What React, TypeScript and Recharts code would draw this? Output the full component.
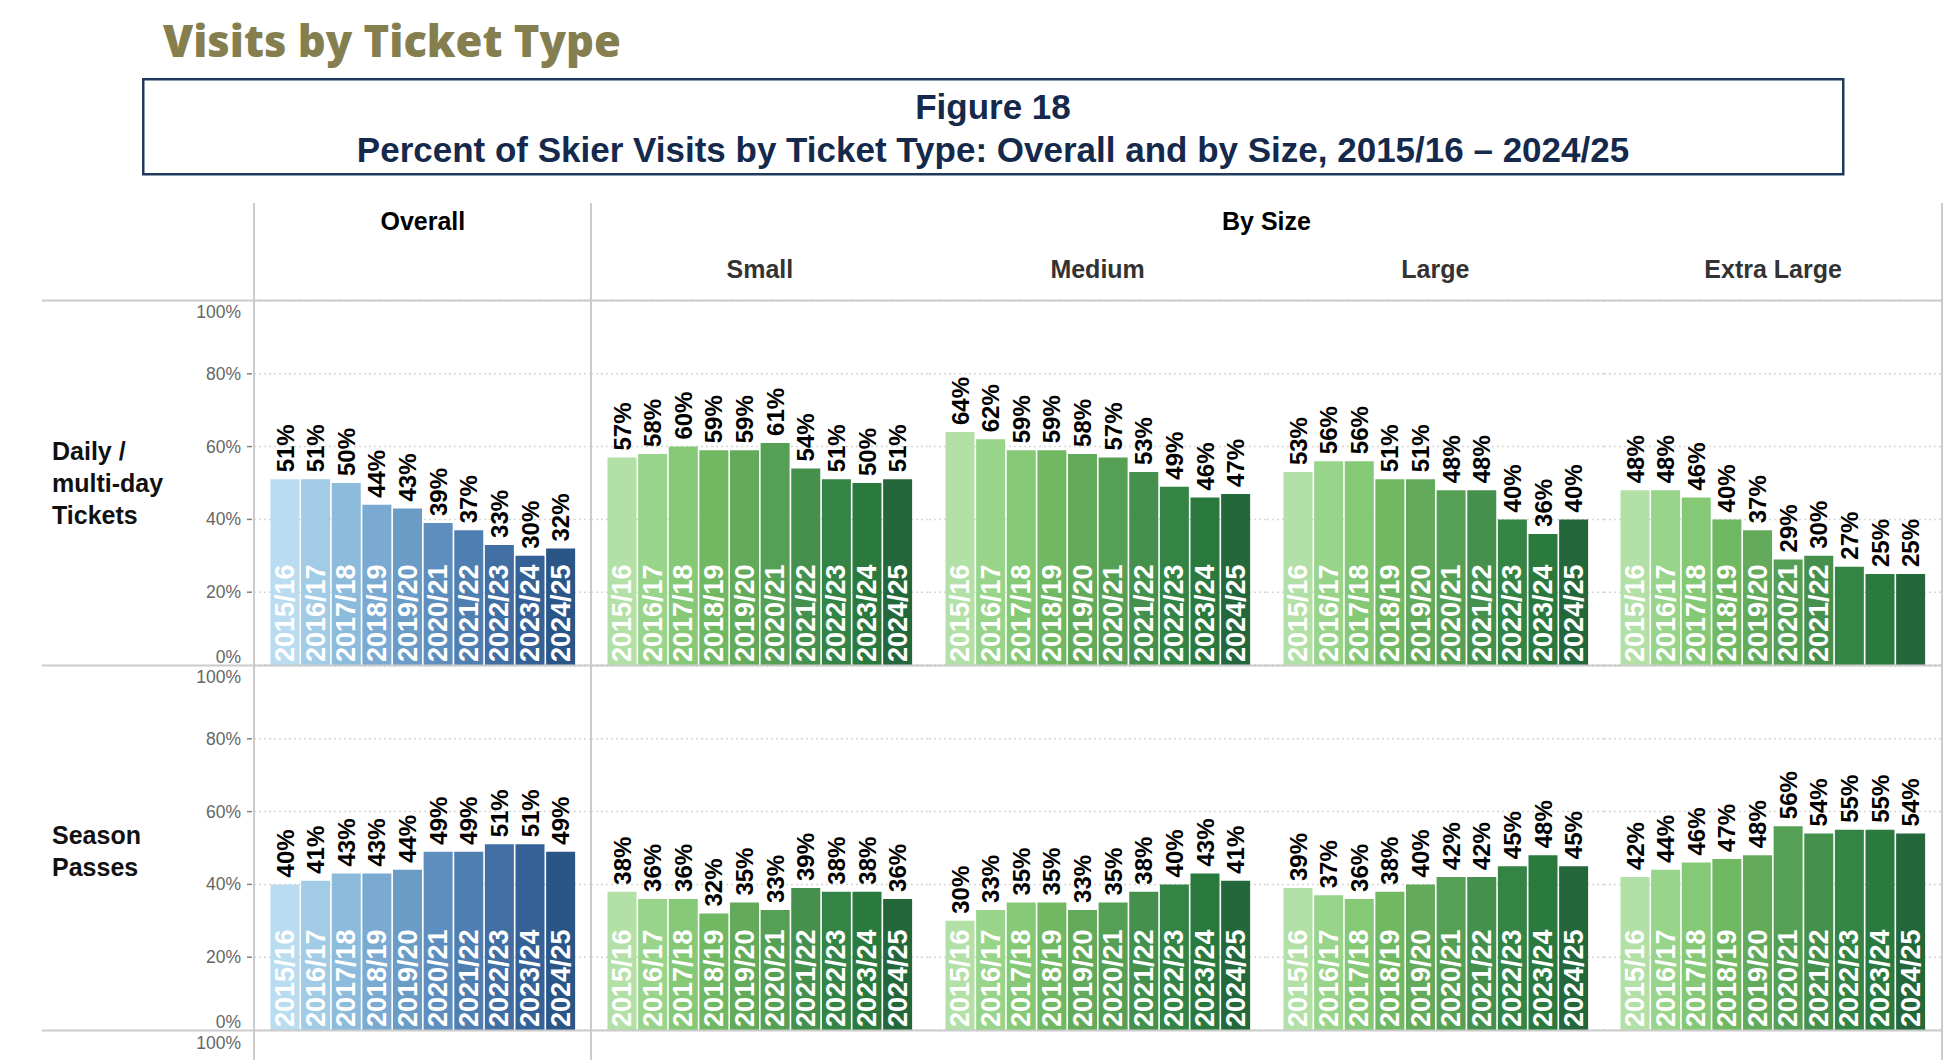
import React from "react";
import { Bar, BarChart, CartesianGrid, Cell, LabelList, XAxis, YAxis } from "recharts";

const SEASONS = [
  "2015/16", "2016/17", "2017/18", "2018/19", "2019/20",
  "2020/21", "2021/22", "2022/23", "2023/24", "2024/25",
];
const SIZES = ["Small", "Medium", "Large", "Extra Large"];

// Daily / multi-day tickets
const DAILY_OVERALL = [51, 51, 50, 44, 43, 39, 37, 33, 30, 32];
const DAILY_SMALL = [57, 58, 60, 59, 59, 61, 54, 51, 50, 51];
const DAILY_MEDIUM = [64, 62, 59, 59, 58, 57, 53, 49, 46, 47];
const DAILY_LARGE = [53, 56, 56, 51, 51, 48, 48, 40, 36, 40];
const DAILY_XL = [48, 48, 46, 40, 37, 29, 30, 27, 25, 25];

// Season passes
const SEASON_OVERALL = [40, 41, 43, 43, 44, 49, 49, 51, 51, 49];
const SEASON_SMALL = [38, 36, 36, 32, 35, 33, 39, 38, 38, 36];
const SEASON_MEDIUM = [30, 33, 35, 35, 33, 35, 38, 40, 43, 41];
const SEASON_LARGE = [39, 37, 36, 38, 40, 42, 42, 45, 48, 45];
const SEASON_XL = [42, 44, 46, 47, 48, 56, 54, 55, 55, 54];

const PCT_TICKS = [0, 20, 40, 60, 80, 100];

const BLUES = [
  "#b9dcf0", "#a2cbe6", "#8dbbdc", "#7aaad1", "#6a9cc5",
  "#5d8ebd", "#4f7eb0", "#416ea3", "#366197", "#295587",
];
const GREENS = [
  "#b3e0a6", "#98d48a", "#85c876", "#71b863", "#63ab5a",
  "#56a055", "#45904d", "#348446", "#2a7a3e", "#24673b",
];

const ROWS = [
  {
    label: ["Daily /", "multi-day", "Tickets"],
    overall: DAILY_OVERALL,
    bySize: [DAILY_SMALL, DAILY_MEDIUM, DAILY_LARGE, DAILY_XL],
  },
  {
    label: ["Season", "Passes"],
    overall: SEASON_OVERALL,
    bySize: [SEASON_SMALL, SEASON_MEDIUM, SEASON_LARGE, SEASON_XL],
  },
];

const ARIAL = "'Liberation Sans', Arial, Helvetica, sans-serif";
const W = 1952;
const H = 1060;
const PLOT_H = 364;
const PAD = 12; // room above/below the plot so edge tick labels are not clipped
const ROW_TOP = [301, 666];
const OVERALL_LEFT = 254;
const SIZE_LEFT = 591;
const PANEL_W = 337.75;
const AXIS_W = 100;
const LINE = "#cbcbcb";

function YTick(props: any) {
  const { x, y, payload } = props;
  const v = payload.value;
  const dy = v === 100 ? 11 : v === 0 ? -8 : 0;
  return (
    <g>
      {v > 0 && v < 100 && (
        <line x1={x - 7} x2={x - 2} y1={y} y2={y} stroke="#808080" strokeWidth={1.5} />
      )}
      <text
        x={x - 13}
        y={y + dy}
        textAnchor="end"
        dominantBaseline="central"
        fontFamily={ARIAL}
        fontSize={17.5}
        fill="#666"
      >
        {v}%
      </text>
    </g>
  );
}

function ValueLabel(props: any) {
  const { x, y, width, value } = props;
  const cx = Number(x) + Number(width) / 2;
  const ty = Number(y) - 7;
  return (
    <text
      transform={`translate(${cx},${ty}) rotate(-90)`}
      textAnchor="start"
      dominantBaseline="central"
      fontFamily={ARIAL}
      fontWeight="bold"
      fontSize={24}
      fill="#000"
    >
      {value}%
    </text>
  );
}

function YearLabel(props: any) {
  const { x, y, width, height, value } = props;
  // the season name only fits inside bars that are tall enough
  if (Number(height) < 101) return null;
  const cx = Number(x) + Number(width) / 2;
  const ty = Number(y) + Number(height) - 3;
  return (
    <text
      transform={`translate(${cx},${ty}) rotate(-90)`}
      textAnchor="start"
      dominantBaseline="central"
      fontFamily={ARIAL}
      fontWeight="bold"
      fontSize={27}
      fill="#fff"
    >
      {value}
    </text>
  );
}

type PanelProps = {
  values: number[];
  colors: string[];
  left: number;
  top: number;
  withAxis?: boolean;
};

function Panel({ values, colors, left, top, withAxis }: PanelProps) {
  const data = SEASONS.map((season, i) => ({ season, value: values[i] }));
  const axisW = withAxis ? AXIS_W : 0;
  return (
    <div style={{ position: "absolute", left: left - axisW, top: top - PAD }}>
      <BarChart
        width={PANEL_W + axisW}
        height={PLOT_H + PAD * 2}
        data={data}
        margin={{ top: PAD, right: 0, bottom: PAD, left: 0 }}
        barCategoryGap={1}
      >
        <CartesianGrid vertical={false} stroke="#d6d6d6" strokeDasharray="2 3" strokeWidth={1.5} />
        <XAxis dataKey="season" hide padding={{ left: 15.5, right: 16 }} />
        <YAxis
          type="number"
          domain={[0, 100]}
          ticks={PCT_TICKS}
          interval={0}
          hide={!withAxis}
          width={axisW}
          axisLine={false}
          tickLine={false}
          tickSize={0}
          tickMargin={0}
          tick={<YTick />}
        />
        <Bar dataKey="value" isAnimationActive={false}>
          {data.map((d, i) => (
            <Cell key={d.season} fill={colors[i]} />
          ))}
          <LabelList dataKey="value" content={ValueLabel} />
          <LabelList dataKey="season" content={YearLabel} />
        </Bar>
      </BarChart>
    </div>
  );
}

export default function App() {
  const sizeCenter = (i: number) => SIZE_LEFT + PANEL_W * (i + 0.5);
  return (
    <div
      style={{
        position: "absolute",
        left: 0,
        top: 0,
        width: W,
        height: H,
        background: "#fff",
        overflow: "hidden",
      }}
    >
      {ROWS.map((row, r) => (
        <React.Fragment key={r}>
          <Panel values={row.overall} colors={BLUES} left={OVERALL_LEFT} top={ROW_TOP[r]} withAxis />
          {row.bySize.map((vals, i) => (
            <Panel
              key={SIZES[i]}
              values={vals}
              colors={GREENS}
              left={SIZE_LEFT + PANEL_W * i}
              top={ROW_TOP[r]}
            />
          ))}
        </React.Fragment>
      ))}

      <svg
        width={W}
        height={H}
        style={{ position: "absolute", left: 0, top: 0, pointerEvents: "none" }}
      >
        <text
          x={163}
          y={57}
          fontFamily="'Open Sans', 'Noto Sans', sans-serif"
          fontWeight={800}
          fontSize={43.5}
          fill="#857f4f"
        >
          Visits by Ticket Type
        </text>

        <rect x={143.25} y={79.25} width={1700} height={95} fill="none" stroke="#1f3a5c" strokeWidth={2.5} />
        <text
          x={993}
          y={106.5}
          textAnchor="middle"
          dominantBaseline="central"
          fontFamily={ARIAL}
          fontWeight="bold"
          fontSize={35}
          fill="#14294b"
        >
          Figure 18
        </text>
        <text
          x={993}
          y={149}
          textAnchor="middle"
          dominantBaseline="central"
          fontFamily={ARIAL}
          fontWeight="bold"
          fontSize={35}
          fill="#14294b"
        >
          Percent of Skier Visits by Ticket Type: Overall and by Size, 2015/16 – 2024/25
        </text>

        <text
          x={OVERALL_LEFT + PANEL_W / 2}
          y={220.5}
          textAnchor="middle"
          dominantBaseline="central"
          fontFamily={ARIAL}
          fontWeight="bold"
          fontSize={25}
          fill="#000"
        >
          Overall
        </text>
        <text
          x={SIZE_LEFT + PANEL_W * 2}
          y={220.5}
          textAnchor="middle"
          dominantBaseline="central"
          fontFamily={ARIAL}
          fontWeight="bold"
          fontSize={25}
          fill="#000"
        >
          By Size
        </text>
        {SIZES.map((s, i) => (
          <text
            key={s}
            x={sizeCenter(i)}
            y={269}
            textAnchor="middle"
            dominantBaseline="central"
            fontFamily={ARIAL}
            fontWeight="bold"
            fontSize={25}
            fill="#333"
          >
            {s}
          </text>
        ))}

        {ROWS.map((row, r) => {
          const firstY = r === 0 ? 451 : 835;
          return row.label.map((t, k) => (
            <text
              key={`${r}-${k}`}
              x={52}
              y={firstY + k * 32}
              dominantBaseline="central"
              fontFamily={ARIAL}
              fontWeight="bold"
              fontSize={25}
              fill="#111"
            >
              {t}
            </text>
          ));
        })}

        <text
          x={OVERALL_LEFT - 13}
          y={1043}
          textAnchor="end"
          dominantBaseline="central"
          fontFamily={ARIAL}
          fontSize={17.5}
          fill="#666"
        >
          100%
        </text>

        {[300.5, 665.5, 1030.5].map((y) => (
          <line key={y} x1={42} x2={1943} y1={y} y2={y} stroke={LINE} strokeWidth={2} />
        ))}
        {[OVERALL_LEFT, SIZE_LEFT, 1942].map((x) => (
          <line key={x} x1={x} x2={x} y1={203} y2={H} stroke={LINE} strokeWidth={2} />
        ))}
      </svg>
    </div>
  );
}
